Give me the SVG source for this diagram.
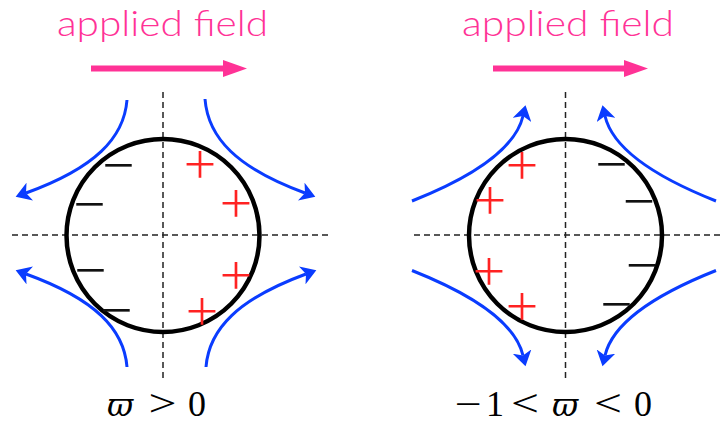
<svg xmlns="http://www.w3.org/2000/svg" width="722" height="424" viewBox="0 0 722 424">
  <style>
    .title { font-family: "Lato", "Open Sans", sans-serif; font-weight: 300; font-size: 36px; fill: #ff3296; }
    .field { stroke: #ff3296; stroke-width: 6; fill: none; }
    .fieldhead { fill: #ff3296; }
    .axis { stroke: #222; stroke-width: 1.5; stroke-dasharray: 6 4; fill: none; }
    .body { stroke: #000; stroke-width: 4.5; fill: none; }
    .flow { stroke: #0a3cff; stroke-width: 3; fill: none; marker-end: url(#ah); }
    .plus { font-family: "Inter", "Liberation Serif", serif; font-weight: 200; font-size: 62px; fill: #ff2222; text-anchor: middle; dominant-baseline: central; }
    .minus { font-family: "Inter", "Liberation Serif", serif; font-weight: 200; font-size: 62px; fill: #111; text-anchor: middle; dominant-baseline: central; }
    .math { font-family: "Liberation Serif", "DejaVu Serif", serif; font-size: 36px; fill: #000; text-anchor: middle; }
    .op { font-family: "Liberation Serif", serif; font-size: 38px; fill: #000; text-anchor: middle; }
    .greek { font-family: "DejaVu Serif", serif; font-style: italic; font-size: 32px; fill: #000; text-anchor: middle; }
  </style>
  <defs>
    <marker id="ah" viewBox="0 0 16 19" refX="4" refY="9.5" markerWidth="16" markerHeight="19" markerUnits="userSpaceOnUse" orient="auto">
      <path d="M0,0 L15,9.5 L0,19 L4,9.5 z" fill="#0a3cff"/>
    </marker>
  </defs>

  <!-- Left panel -->
  <g id="left-field-label">
    <text class="title" x="57" y="36" textLength="211" lengthAdjust="spacingAndGlyphs">applied field</text>
  </g>
  <g id="left-field-arrow">
    <line class="field" x1="91" y1="68.5" x2="226" y2="68.5"/>
    <polygon class="fieldhead" points="223,60 247,68.5 223,77"/>
  </g>
  <g id="left-axes">
    <line class="axis" x1="163" y1="92" x2="163" y2="381"/>
    <line class="axis" x1="12" y1="235" x2="328" y2="235"/>
  </g>
  <g id="left-body">
    <circle class="body" cx="163" cy="235.5" r="96.5"/>
  </g>
  <g id="left-charges">
    <text class="minus" x="118.5" y="160">−</text>
    <text class="minus" x="89.5" y="199">−</text>
    <text class="minus" x="90.5" y="265">−</text>
    <text class="minus" x="116.5" y="305">−</text>
    <text class="plus" x="200" y="159">+</text>
    <text class="plus" x="236" y="198">+</text>
    <text class="plus" x="236" y="270">+</text>
    <text class="plus" x="202" y="306">+</text>
  </g>
  <g id="left-label">
    <text class="greek" x="120" y="415.5">ϖ</text>
    <text class="op" x="162.5" y="415.5" textLength="28" lengthAdjust="spacingAndGlyphs">&gt;</text>
    <text class="math" x="197" y="415.5">0</text>
  </g>

  <!-- Right panel -->
  <g id="right-field-label">
    <text class="title" x="462" y="36" textLength="212" lengthAdjust="spacingAndGlyphs">applied field</text>
  </g>
  <g id="right-field-arrow">
    <line class="field" x1="493" y1="68.5" x2="627" y2="68.5"/>
    <polygon class="fieldhead" points="624,60 648,68.5 624,77"/>
  </g>
  <g id="right-axes">
    <line class="axis" x1="565.5" y1="92" x2="565.5" y2="381"/>
    <line class="axis" x1="414" y1="235" x2="722" y2="235"/>
  </g>
  <g id="right-body">
    <circle class="body" cx="565.5" cy="235.5" r="96.5"/>
  </g>
  <g id="right-charges">
    <text class="plus" x="522" y="160">+</text>
    <text class="plus" x="490" y="195">+</text>
    <text class="plus" x="489" y="266">+</text>
    <text class="plus" x="522" y="301">+</text>
    <text class="minus" x="611.5" y="159">−</text>
    <text class="minus" x="639" y="196">−</text>
    <text class="minus" x="642" y="260">−</text>
    <text class="minus" x="616.5" y="299">−</text>
  </g>
  <g id="right-label">
    <text class="math" x="468" y="415.5" textLength="27" lengthAdjust="spacingAndGlyphs">−</text>
    <text class="math" x="495" y="415.5">1</text>
    <text class="op" x="525" y="415.5" textLength="28" lengthAdjust="spacingAndGlyphs">&lt;</text>
    <text class="greek" x="565" y="415.5">ϖ</text>
    <text class="op" x="608" y="415.5" textLength="28" lengthAdjust="spacingAndGlyphs">&lt;</text>
    <text class="math" x="643" y="415.5">0</text>
  </g>

  <!-- Flow lines -->
  <g id="connectors">
    <path class="flow" d="M127,100 C124,138 95,168 26,193"/>
    <path class="flow" d="M205,99 C208,138 237,168 305,193"/>
    <path class="flow" d="M127,367 C124,329 95,299 26,274"/>
    <path class="flow" d="M206,367 C209,329 238,299 306,274"/>
    <path class="flow" d="M412,201 C470,178 515,150 523,116"/>
    <path class="flow" d="M716,201 C658,178 613,150 605,116"/>
    <path class="flow" d="M412,270.5 C470,293.5 515,321.5 523,355.5"/>
    <path class="flow" d="M716,270.5 C658,293.5 613,321.5 605,355.5"/>
  </g>
</svg>
